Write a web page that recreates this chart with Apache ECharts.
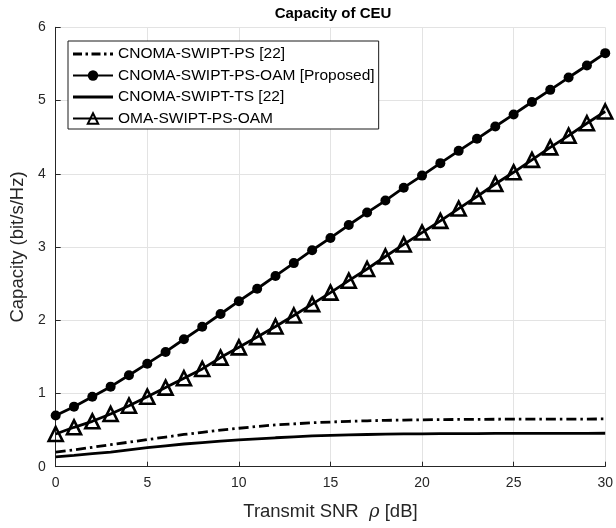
<!DOCTYPE html>
<html>
<head>
<meta charset="utf-8">
<script src="https://cdn.jsdelivr.net/npm/echarts@6/dist/echarts.min.js"></script>
<style>
  html, body { margin: 0; padding: 0; background: #fff; }
  #chart { width: 616px; height: 528px; }
</style>
</head>
<body>
<div id="chart"></div>
<script>
// Transmit SNR in dB
const snr = [0,1,2,3,4,5,6,7,8,9,10,11,12,13,14,15,16,17,18,19,20,21,22,23,24,25,26,27,28,29,30];

// Capacity of the cell-edge user (bit/s/Hz) for each scheme
const cnomaPS = [0.200,0.230,0.265,0.300,0.335,0.370,0.405,0.440,0.470,0.500,0.525,0.550,0.570,0.585,0.600,0.610,0.620,0.627,0.633,0.637,0.640,0.643,0.645,0.647,0.648,0.649,0.650,0.650,0.651,0.651,0.652];
const cnomaPSOAM = [0.700,0.820,0.956,1.093,1.249,1.407,1.567,1.740,1.910,2.085,2.260,2.430,2.605,2.780,2.956,3.124,3.300,3.470,3.634,3.810,3.975,4.145,4.313,4.477,4.645,4.810,4.980,5.146,5.314,5.478,5.647];
const cnomaTS = [0.135,0.155,0.178,0.200,0.230,0.260,0.285,0.310,0.330,0.350,0.365,0.380,0.395,0.408,0.420,0.428,0.435,0.440,0.444,0.447,0.449,0.451,0.452,0.453,0.454,0.455,0.455,0.456,0.456,0.456,0.457];
const omaPSOAM = [0.447,0.538,0.620,0.720,0.833,0.956,1.080,1.208,1.335,1.490,1.630,1.770,1.915,2.065,2.220,2.377,2.540,2.700,2.870,3.035,3.197,3.357,3.525,3.690,3.860,4.020,4.190,4.360,4.520,4.690,4.850];

const xTicks = [0, 5, 10, 15, 20, 25, 30];
const yTicks = [0, 1, 2, 3, 4, 5, 6];

const names = ['CNOMA-SWIPT-PS [22]', 'CNOMA-SWIPT-PS-OAM [Proposed]', 'CNOMA-SWIPT-TS [22]', 'OMA-SWIPT-PS-OAM'];

const FONT = '"Liberation Sans", Arial, Helvetica, sans-serif';
const INK = '#262626';

// legend glyphs for the curves drawn without markers
const ICON_DASHDOT = 'path://M0,0H9V2.8H0Z M12.5,0H15V2.8H12.5Z M18.5,0H27.5V2.8H18.5Z M31,0H33.5V2.8H31Z M37,0H40V2.8H37Z';
const ICON_SOLID = 'path://M0,0H40V2.8H0Z';

const pairs = ys => snr.map((x, i) => [x, ys[i]]);

const chart = echarts.init(document.getElementById('chart'), null, { renderer: 'canvas' });

chart.setOption({
  animation: false,
  backgroundColor: '#fff',
  textStyle: { fontFamily: FONT },
  title: {
    text: 'Capacity of CEU',
    left: 328, top: 1, textAlign: 'center',
    textStyle: { fontFamily: FONT, fontWeight: 'bold', fontSize: 15, color: '#000' }
  },
  grid: { left: 50.5, right: 9.5, top: 27.3, bottom: 61.3, containLabel: false },
  legend: {
    orient: 'vertical',
    left: 68, top: 41,
    data: [
      { name: names[0], icon: ICON_DASHDOT },
      { name: names[1] },
      { name: names[2], icon: ICON_SOLID },
      { name: names[3] }
    ],
    itemWidth: 40, itemHeight: 13, itemGap: 5.5,
    padding: [5, 4, 2.5, 4],
    borderColor: '#1a1a1a', borderWidth: 1, backgroundColor: '#fff',
    textStyle: { fontFamily: FONT, fontSize: 15.5, color: '#000' }
  },
  xAxis: {
    type: 'value', min: 0, max: 30, interval: 5,
    name: 'Transmit SNR  {i|ρ} [dB]',
    nameLocation: 'middle', nameGap: 36,
    nameTextStyle: { fontFamily: FONT, fontSize: 18.5, color: INK,
      rich: { i: { fontFamily: '"DejaVu Serif", serif', fontStyle: 'italic', fontSize: 18, color: INK } } },
    axisLine: { show: true, onZero: false, lineStyle: { color: INK, width: 1 } },
    axisTick: { show: true, inside: true, length: 5, lineStyle: { color: INK } },
    axisLabel: { fontFamily: FONT, fontSize: 14, color: INK, margin: 9,
      formatter: v => xTicks.includes(v) ? String(v) : '' },
    splitLine: { show: true, lineStyle: { color: '#e3e3e3', width: 1 } }
  },
  yAxis: {
    type: 'value', min: 0, max: 6, interval: 1,
    name: 'Capacity (bit/s/Hz)',
    nameLocation: 'middle', nameGap: 28,
    nameTextStyle: { fontFamily: FONT, fontSize: 18.5, color: INK },
    axisLine: { show: true, onZero: false, lineStyle: { color: INK, width: 1 } },
    axisTick: { show: true, inside: true, length: 5, lineStyle: { color: INK } },
    axisLabel: { fontFamily: FONT, fontSize: 14, color: INK, margin: 10,
      formatter: v => yTicks.includes(v) ? String(v) : '' },
    splitLine: { show: true, lineStyle: { color: '#e3e3e3', width: 1 } }
  },
  series: [
    {
      name: names[0], type: 'line', data: pairs(cnomaPS),
      showSymbol: false, symbol: 'none',
      lineStyle: { color: '#000', width: 2.8, type: [10, 4, 2.5, 4] },
      itemStyle: { color: '#000' }
    },
    {
      name: names[1], type: 'line', data: pairs(cnomaPSOAM),
      symbol: 'circle', symbolSize: 10,
      lineStyle: { color: '#000', width: 2.8 },
      itemStyle: { color: '#000', borderColor: '#000', borderWidth: 0 }
    },
    {
      name: names[2], type: 'line', data: pairs(cnomaTS),
      showSymbol: false, symbol: 'none',
      lineStyle: { color: '#000', width: 2.8 },
      itemStyle: { color: '#000' }
    },
    {
      name: names[3], type: 'line', data: pairs(omaPSOAM),
      symbol: 'triangle', symbolSize: 14,
      lineStyle: { color: '#000', width: 2.8 },
      itemStyle: { color: 'rgba(255,255,255,0)', borderColor: '#000', borderWidth: 2.6 }
    }
  ]
});
</script>
</body>
</html>
